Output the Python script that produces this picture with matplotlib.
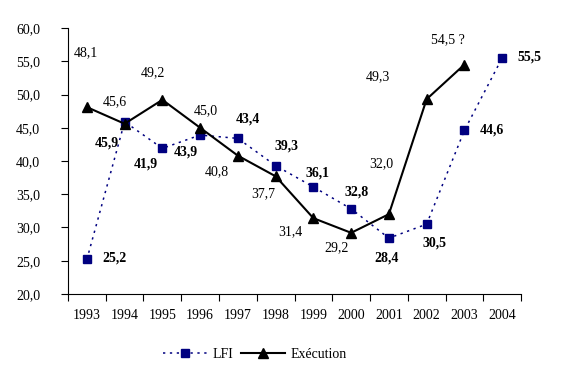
import matplotlib
matplotlib.use("Agg")
import matplotlib.pyplot as plt
from matplotlib.ticker import FuncFormatter, FixedLocator

years = ["1993", "1994", "1995", "1996", "1997", "1998",
         "1999", "2000", "2001", "2002", "2003", "2004"]
lfi = [25.2, 45.9, 41.9, 43.9, 43.4, 39.3, 36.1, 32.8, 28.4, 30.5, 44.6, 55.5]
execution = [48.1, 45.6, 49.2, 45.0, 40.8, 37.7, 31.4, 29.2, 32.0, 49.3, 54.5]
exec_labels = ["48,1", "45,6", "49,2", "45,0", "40,8", "37,7",
               "31,4", "29,2", "32,0", "49,3", "54,5 ?"]
lfi_labels = ["25,2", "45,9", "41,9", "43,9", "43,4", "39,3",
              "36,1", "32,8", "28,4", "30,5", "44,6", "55,5"]

# label offsets in pixels (dx right, dy down)
exec_off = [(-1, -54), (-10, -22), (-9, -27), (6, -17), (-21, 16), (-12, 17),
            (-23, 14), (-15, 15), (-8, -51), (-49, -22), (-16, -25)]
lfi_off = [(28, -1), (-18, 21), (-17, 16), (-14, 17), (10, -19), (11, -20),
           (4, -14), (5, -17), (-2, 20), (8, 19), (27, 0), (27, -1)]

plt.rcParams['font.family'] = ['Liberation Serif', 'DejaVu Serif']

fig = plt.figure(figsize=(5.68, 3.77), dpi=100)
ax = fig.add_axes([0.1197, 0.2202, 0.7976, 0.7055])

x = list(range(len(years)))
navy = '#000080'
ax.plot(x, lfi, color=navy, linestyle=(0, (1.5, 3)), linewidth=1.1,
        marker='s', markersize=6, markerfacecolor=navy, markeredgecolor=navy,
        label='LFI')
ax.plot(x[:len(execution)], execution, color='black', linewidth=1.5,
        marker='^', markersize=6.5, label='Exécution')

k = 72 / 100
for i, (v, t) in enumerate(zip(execution, exec_labels)):
    dx, dy = exec_off[i]
    ax.annotate(t, (i, v), xytext=(dx * k, -dy * k), textcoords='offset points',
                ha='center', va='center', fontsize=10)
for i, (v, t) in enumerate(zip(lfi, lfi_labels)):
    dx, dy = lfi_off[i]
    ax.annotate(t, (i, v), xytext=(dx * k, -dy * k), textcoords='offset points',
                ha='center', va='center', fontsize=10, fontweight='bold')

ax.set_xlim(-0.5, len(years) - 0.5)
ax.set_ylim(20, 60)
ax.set_yticks(range(20, 61, 5))
ax.yaxis.set_major_formatter(FuncFormatter(lambda v, p: f"{v:.1f}".replace('.', ',')))
ax.xaxis.set_major_locator(FixedLocator([i - 0.5 for i in range(len(years) + 1)]))
ax.xaxis.set_major_formatter(FuncFormatter(lambda v, p: ''))
ax.xaxis.set_minor_locator(FixedLocator(x))
ax.set_xticklabels(years, minor=True)
ax.tick_params(axis='x', which='minor', length=0, pad=11, labelsize=10)
ax.tick_params(axis='x', which='major', length=5, direction='out')
ax.tick_params(axis='y', length=5, direction='out', labelsize=10, pad=15)

for s in ['top', 'right']:
    ax.spines[s].set_visible(False)

fig.legend(loc='center', bbox_to_anchor=(255 / 568, 1 - 354 / 377), ncol=2,
           frameon=False, fontsize=10, handlelength=3.2, columnspacing=0.5,
           handletextpad=0.4)

fig.savefig('out.png', dpi=100)
